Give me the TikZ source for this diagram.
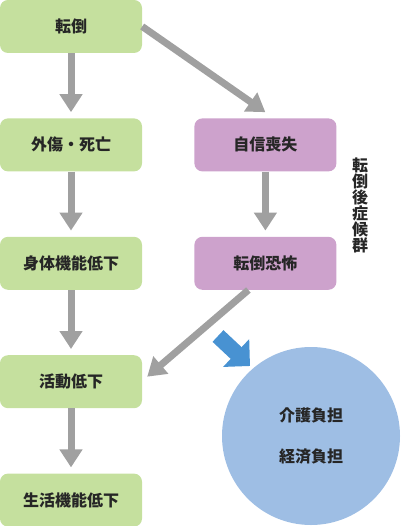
\documentclass[tikz,border=0pt]{standalone}
\usepackage{fontspec}
\setmainfont{Noto Sans CJK JP}
\usetikzlibrary{arrows.meta, positioning}
\definecolor{fallgreen}{RGB}{197,224,158}
\definecolor{fearpurple}{RGB}{205,162,204}
\definecolor{careblue}{RGB}{158,190,228}
\definecolor{pointblue}{RGB}{72,146,210}
\definecolor{flowgray}{RGB}{160,160,160}

\begin{document}
\begin{tikzpicture}[x=1pt, y=1pt,
			node distance=65pt and 52pt,
			box/.style={rectangle, rounded corners=8pt, minimum width=142pt, minimum height=53pt, inner sep=0pt, align=center, text=black!85, font=\fontsize{16}{18}\selectfont\bfseries},
			greenbox/.style={box, fill=fallgreen},
			purplebox/.style={box, fill=fearpurple},
			flow/.style={draw=flowgray, line width=7pt, -{Triangle[width=22pt, length=18pt]}}
			]
			\useasboundingbox (0,0) rectangle (400,-526);
			
			% Left column
			\node[greenbox] (tentou) at (71,-26.5) {転倒};
			\node[greenbox, below=of tentou] (gaisho) {外傷・死亡};
			\node[greenbox, below=of gaisho] (shintai) {身体機能低下};
			\node[greenbox, below=of shintai] (katsudo) {活動低下};
			\node[greenbox, below=of katsudo] (seikatsu) {生活機能低下};
			
			% Right column
			\node[purplebox, right=of gaisho] (jishin) {自信喪失};
			\node[purplebox, below=of jishin] (kyofu) {転倒恐怖};
			\node[align=center, text=black!85, font=\fontsize{16}{16}\selectfont\bfseries] (kouhou) at (360,-205) {転\\倒\\後\\症\\候\\群};
			
			% Burden
			\node[circle, fill=careblue, minimum size=178pt, inner sep=0pt, align=center, text=black!85, font=\fontsize{16}{41}\selectfont\bfseries] (futan) at (311,-436) {介護負担\\経済負担};
			\coordinate (bluefrom) at (218,-336);
			\coordinate (blueto) at (250,-366);
			
			% Arrows
			\draw[flow, shorten >=6pt] (tentou) -- (gaisho);
			\draw[flow, shorten >=6pt] (gaisho) -- (shintai);
			\draw[flow, shorten >=6pt] (shintai) -- (katsudo);
			\draw[flow, shorten >=6pt] (katsudo) -- (seikatsu);
			\draw[flow, shorten >=6pt] (jishin) -- (kyofu);
			\draw[flow] (tentou.east) -- ([yshift=6pt]jishin.north);
			\draw[flow] ([xshift=-17pt]kyofu.south) -- ([xshift=5pt, yshift=5pt]katsudo.east);
			\draw[pointblue, line width=16pt, -{Triangle[width=37pt, length=19pt]}] (bluefrom) -- (blueto);
		\end{tikzpicture}
\end{document}
